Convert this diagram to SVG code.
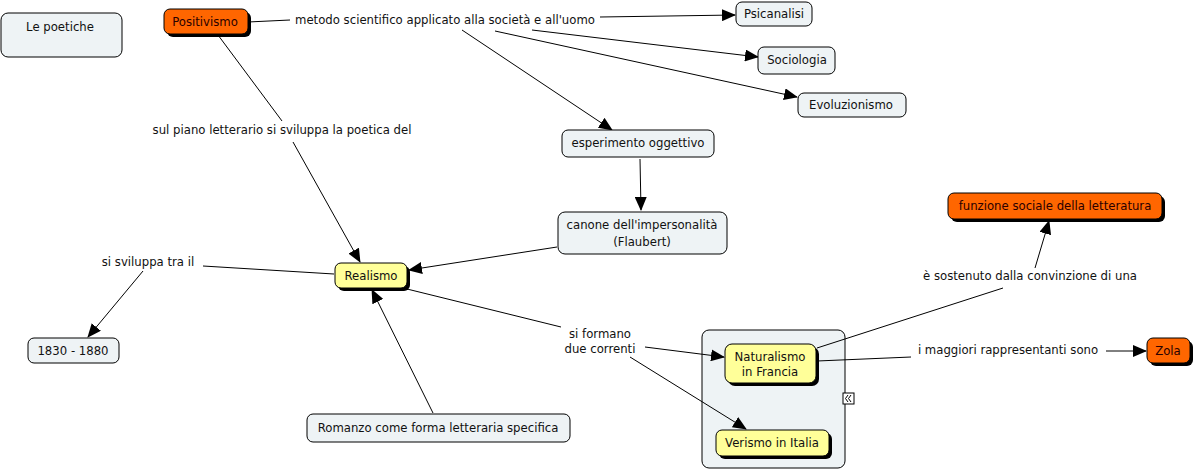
<svg xmlns="http://www.w3.org/2000/svg" width="1196" height="471" viewBox="0 0 1196 471">
<style>
text{font-family:"DejaVu Sans","Liberation Sans",sans-serif;font-size:11.7px;fill:#111;text-anchor:middle}
.n{fill:#EEF3F5;stroke:#000;stroke-width:1}
.y{fill:#FFFF99;stroke:#000;stroke-width:1}
.o{fill:#FF6600;stroke:#000;stroke-width:1}
.sh{fill:#000}
.c line{stroke:#000;stroke-width:1}
.a{marker-end:url(#ah)}
.ot{fill:#2a0000}
</style>
<defs>
<marker id="ah" markerUnits="userSpaceOnUse" markerWidth="14" markerHeight="12" refX="13" refY="6" orient="auto">
<path d="M0,0 L14,6 L0,12 Z" fill="#000"/>
</marker>
</defs>
<rect width="1196" height="471" fill="#fff"/>
<g id="n-gruppo"><rect class="n" x="702" y="330" width="143" height="138" rx="7"/>
<rect x="843" y="393" width="11" height="11" fill="#fff" stroke="#000" stroke-width="1"/>
<polyline points="848,395 845.5,398.5 848,402" fill="none" stroke="#000" stroke-width="1"/>
<polyline points="851,395 848.5,398.5 851,402" fill="none" stroke="#000" stroke-width="1"/>
</g>
<g class="c" id="connectors">
<line x1="248" y1="22" x2="290" y2="20"/>
<line class="a" x1="600" y1="17" x2="735" y2="15"/>
<line class="a" x1="532" y1="30" x2="758" y2="57"/>
<line class="a" x1="495" y1="31" x2="797" y2="97"/>
<line class="a" x1="462" y1="30" x2="612" y2="130"/>
<line x1="218" y1="35" x2="282" y2="121"/>
<line class="a" x1="293" y1="142" x2="360" y2="262"/>
<line class="a" x1="640" y1="159" x2="641" y2="210"/>
<line class="a" x1="557" y1="247" x2="409" y2="270"/>
<line x1="334" y1="274" x2="203" y2="266"/>
<line class="a" x1="143" y1="271" x2="88" y2="337"/>
<line x1="407" y1="289" x2="561" y2="327"/>
<line class="a" x1="645" y1="347" x2="724" y2="357"/>
<line class="a" x1="630" y1="357" x2="746" y2="429"/>
<line class="a" x1="433" y1="413" x2="372" y2="290"/>
<line x1="817" y1="348" x2="1003" y2="288"/>
<line class="a" x1="1035" y1="268" x2="1049" y2="221"/>
<line x1="817" y1="361" x2="911" y2="357"/>
<line class="a" x1="1106" y1="351" x2="1146" y2="351"/>
</g>
<g id="labels">
<text x="445" y="24">metodo scientifico applicato alla società e all'uomo</text>
<text x="282" y="134">sul piano letterario si sviluppa la poetica del</text>
<text x="148" y="266">si sviluppa tra il</text>
<text x="600" y="338">si formano</text>
<text x="600" y="353">due correnti</text>
<text x="1030" y="280">è sostenuto dalla convinzione di una</text>
<text x="1008" y="354">i maggiori rappresentanti sono</text>
</g>
<g id="n-poetiche"><rect class="n" x="1" y="13" width="121" height="44" rx="7"/><text x="60" y="31">Le poetiche</text></g>
<g id="n-positivismo"><rect class="sh" x="167" y="12" width="84" height="25" rx="6"/><rect class="o" x="164" y="9" width="84" height="25" rx="6"/><text class="ot" x="205" y="26">Positivismo</text></g>
<g id="n-psicanalisi"><rect class="n" x="736" y="2" width="76" height="24" rx="6"/><text x="774" y="18">Psicanalisi</text></g>
<g id="n-sociologia"><rect class="n" x="758" y="47" width="77" height="27" rx="6"/><text x="797" y="64">Sociologia</text></g>
<g id="n-evoluzionismo"><rect class="n" x="798" y="93" width="108" height="24" rx="6"/><text x="851" y="109">Evoluzionismo</text></g>
<g id="n-esperimento"><rect class="n" x="562" y="130" width="152" height="27" rx="6"/><text x="638" y="147">esperimento oggettivo</text></g>
<g id="n-canone"><rect class="n" x="558" y="212" width="169" height="42" rx="7"/><text x="642" y="229">canone dell'impersonalità</text><text x="642" y="246">(Flaubert)</text></g>
<g id="n-realismo"><rect class="sh" x="338" y="266" width="72" height="25" rx="6"/><rect class="y" x="335" y="263" width="72" height="25" rx="6"/><text x="371" y="280">Realismo</text></g>
<g id="n-1830"><rect class="n" x="28" y="338" width="91" height="25" rx="6"/><text x="73" y="355">1830 - 1880</text></g>
<g id="n-romanzo"><rect class="n" x="307" y="414" width="263" height="28" rx="6"/><text x="438" y="432">Romanzo come forma letteraria specifica</text></g>
<g id="n-naturalismo"><rect class="sh" x="728" y="347" width="91" height="39" rx="7"/><rect class="y" x="725" y="344" width="91" height="39" rx="7"/><text x="770" y="361">Naturalismo</text><text x="770" y="376">in Francia</text></g>
<g id="n-verismo"><rect class="sh" x="719" y="433" width="113" height="26" rx="6"/><rect class="y" x="716" y="430" width="113" height="26" rx="6"/><text x="772" y="447">Verismo in Italia</text></g>
<g id="n-zola"><rect class="sh" x="1150" y="341" width="43" height="25" rx="6"/><rect class="o" x="1147" y="338" width="43" height="25" rx="6"/><text class="ot" x="1168" y="355">Zola</text></g>
<g id="n-funzione"><rect class="sh" x="951" y="196" width="214" height="26" rx="6"/><rect class="o" x="948" y="193" width="214" height="26" rx="6"/><text class="ot" x="1055" y="210">funzione sociale della letteratura</text></g>
</svg>
